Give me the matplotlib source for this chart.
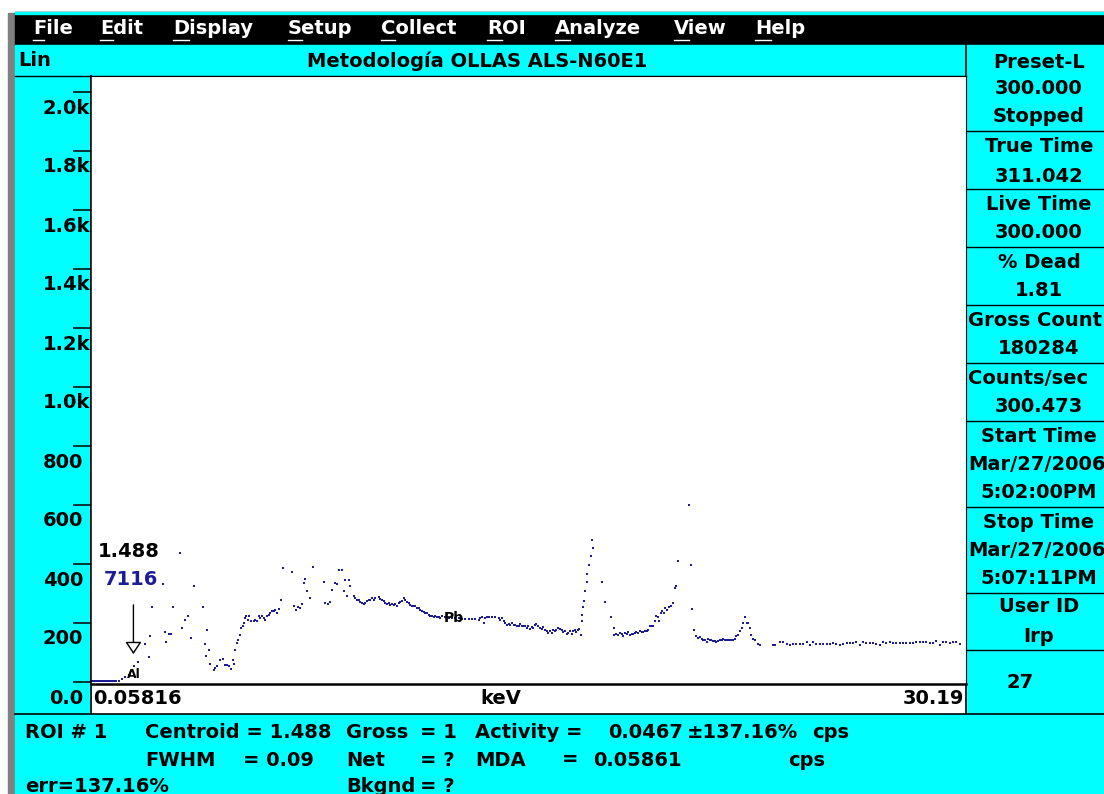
import matplotlib
matplotlib.use("Agg")
import matplotlib.pyplot as plt
from matplotlib.patches import Rectangle
from matplotlib.transforms import ScaledTranslation

plt.rcParams['font.family'] = ['DejaVu Sans']
plt.rcParams['font.weight'] = 'bold'

# -----------------------------
# Data
# -----------------------------
title = "Metodología OLLAS ALS-N60E1"
menu_items = ["File", "Edit", "Display", "Setup", "Collect", "ROI", "Analyze", "View", "Help"]

y_ticks = [0, 200, 400, 600, 800, 1000, 1200, 1400, 1600, 1800, 2000]
y_ticklabels = ["0.0", "200", "400", "600", "800", "1.0k", "1.2k", "1.4k", "1.6k", "1.8k", "2.0k"]

kev_start = 0.05816
kev_end = 30.19

energy_kev = [
    0.06, 0.12, 0.18, 0.24, 0.30, 0.36, 0.42, 0.48, 0.54, 0.60, 0.66, 0.72, 0.78, 0.84, 0.90,
    0.98, 1.09, 1.21, 1.32, 1.42, 1.50, 1.65, 1.88, 2.03, 2.07, 2.13, 2.50, 2.57, 2.61, 2.73, 2.80, 2.85,
    3.11, 3.16, 3.28, 3.36, 3.49, 3.57, 3.88, 3.95, 4.00, 4.03, 4.08, 4.14, 4.26, 4.31, 4.37, 4.49, 4.57,
    4.64, 4.72, 4.80, 4.87, 4.91, 4.95, 5.00, 5.06, 5.10, 5.15, 5.21, 5.26, 5.29, 5.33, 5.37, 5.44, 5.49,
    5.56, 5.64, 5.67, 5.75, 5.81, 5.87, 5.93, 5.98, 6.04, 6.10, 6.16, 6.21, 6.27, 6.33, 6.39, 6.44, 6.50,
    6.59, 6.65, 6.96, 7.02, 7.10, 7.17, 7.25, 7.31, 7.36, 7.40, 7.48, 7.59, 7.67, 8.05, 8.11, 8.20, 8.26,
    8.34, 8.43, 8.51, 8.59, 8.69, 8.74, 8.80, 8.86, 8.92, 8.97, 9.09, 9.15, 9.20, 9.26, 9.32, 9.38, 9.43,
    9.49, 9.55, 9.61, 9.66, 9.72, 9.78, 9.84, 9.95, 10.01, 10.07, 10.12, 10.18, 10.24, 10.30, 10.35,
    10.41, 10.47, 10.53, 10.58, 10.64, 10.70, 10.76, 10.81, 10.87, 10.93, 10.99, 11.04, 11.10, 11.16,
    11.22, 11.27, 11.33, 11.39, 11.45, 11.50, 11.56, 11.62, 11.68, 11.73, 11.79, 11.85, 11.91, 11.96,
    12.02, 12.08, 12.14, 12.25, 12.37, 12.48, 12.60, 12.71, 12.83, 12.94, 13.06, 13.17, 13.29, 13.40,
    13.46, 13.52, 13.58, 13.63, 13.69, 13.75, 13.86, 13.98, 14.09, 14.15, 14.21, 14.27, 14.32, 14.38,
    14.44, 14.50, 14.55, 14.61, 14.67, 14.73, 14.78, 14.84, 14.90, 14.96,
    15.00, 15.06, 15.12, 15.17, 15.23, 15.29, 15.35, 15.40, 15.46, 15.52, 15.58, 15.63, 15.69, 15.75, 15.81, 15.86, 15.92,
    15.98, 16.04, 16.09, 16.15, 16.21, 16.27, 16.32, 16.38, 16.44, 16.50, 16.55, 16.61, 16.67, 16.73, 16.78, 16.84, 16.87,
    16.92, 16.96, 16.98, 17.01, 17.05, 17.09, 17.13, 17.16, 17.21, 17.28, 17.30, 17.36, 17.65, 17.76, 17.96, 18.07, 18.08,
    18.16, 18.22, 18.28, 18.34, 18.39, 18.45, 18.51, 18.57, 18.62, 18.68, 18.74, 18.80, 18.85, 18.91, 18.97, 19.03, 19.08,
    19.14, 19.20, 19.26, 19.31, 19.37, 19.43, 19.49, 19.54, 19.60, 19.63, 19.69, 19.74, 19.81, 19.85, 19.92, 19.98, 20.04,
    20.12, 20.18, 20.23, 20.29, 20.66, 20.73, 20.78, 20.84, 20.92, 20.98, 21.04, 21.10, 21.15, 21.21, 21.27, 21.33, 21.38,
    21.44, 21.50, 21.56, 21.61, 21.67, 21.73, 21.79, 21.84, 21.90, 21.96, 22.02, 22.07, 22.13, 22.19, 22.25, 22.30, 22.36,
    22.42, 22.48, 22.53, 22.59, 22.65, 22.71, 22.76, 22.82, 22.88, 22.94, 23.03, 23.11, 23.57, 23.63,
    23.80, 23.91, 24.03, 24.14, 24.26, 24.37, 24.49, 24.60, 24.72, 24.83, 24.95, 25.06, 25.18, 25.29, 25.41, 25.52, 25.64, 25.75,
    25.87, 25.98, 26.10, 26.21, 26.33, 26.44, 26.56, 26.67, 26.79, 26.90, 27.02, 27.13, 27.25, 27.36, 27.48, 27.59, 27.71, 27.82,
    27.94, 28.05, 28.17, 28.28, 28.40, 28.51, 28.63, 28.74, 28.86, 28.97, 29.09, 29.20, 29.32, 29.43, 29.55, 29.66, 29.78, 29.89, 30.01,
]

counts = [
    3, 3, 4, 3, 3, 3, 4, 3, 3, 3, 4, 3, 4, 5, 5,
    5, 10, 17, 25, 36, 55, 67, 130, 84, 155, 255, 332, 171, 136, 164, 164, 255,
    438, 182, 211, 225, 149, 324, 255, 130, 89, 177, 107, 61, 40, 47, 53, 76, 78,
    58, 58, 53, 45, 75, 62, 107, 132, 144, 159, 182, 189, 200, 218, 223, 209, 223,
    206, 206, 211, 206, 223, 217, 225, 217, 209, 225, 228, 234, 240, 240, 243, 234, 247,
    279, 385, 374, 259, 245, 254, 251, 266, 336, 349, 307, 285, 390, 338, 268, 266, 270,
    313, 336, 333, 381, 381, 310, 347, 293, 345, 324, 293, 285, 279, 277, 270, 268, 266,
    268, 273, 279, 277, 285, 279, 285, 288, 283, 277, 273, 268, 266, 268, 262,
    266, 262, 266, 259, 268, 270, 276, 285, 279, 270, 268, 262, 259, 257,
    259, 251, 251, 245, 240, 236, 234, 234, 228, 225, 223, 220, 223, 220,
    220, 217, 223, 219, 218, 218, 217, 216, 215, 214, 214, 214, 214, 211,
    217, 220, 200, 217, 219, 220, 220, 220, 217, 211, 217, 206, 200, 194,
    198, 194, 200, 194, 194, 189, 191, 198, 189, 191,
    189, 183, 189, 180, 186, 183, 194, 198, 189, 183, 180, 186, 177, 172, 166, 172, 166,
    175, 172, 177, 183, 180, 175, 168, 172, 164, 166, 172, 164, 172, 175, 168, 177, 180,
    160, 206, 228, 254, 276, 307, 338, 367, 397, 426, 480, 454, 338, 272, 220, 184, 160,
    164, 159, 166, 164, 157, 166, 164, 168, 160, 164, 164, 166, 168, 166, 172, 168, 168,
    172, 172, 177, 189, 191, 189, 206, 223, 220, 206, 234, 240, 234, 251, 245, 254, 259,
    268, 319, 327, 409, 599, 397, 249, 177, 155, 149, 153, 146, 141, 144, 134, 146, 144,
    141, 138, 138, 134, 138, 141, 144, 146, 144, 141, 144, 141, 141, 141, 146, 157, 160,
    172, 183, 200, 220, 200, 200, 183, 160, 146, 144, 130, 127, 124, 124,
    134, 134, 130, 127, 130, 130, 130, 130, 134, 127, 134, 130, 130, 130, 130, 130, 132, 130,
    127, 130, 132, 132, 132, 137, 127, 134, 132, 132, 132, 130, 127, 137, 132, 134, 132, 132,
    132, 132, 132, 132, 132, 137, 134, 137, 134, 132, 132, 139, 127, 134, 137, 132, 137, 134, 130,
]

cursor_kev = 1.488
cursor_counts = "7116"

status_lines = [
    ("Preset-L", 62), ("300.000", 89), ("Stopped", 117),
    ("True Time", 147), ("311.042", 176),
    ("Live Time", 205), ("300.000", 233),
    ("% Dead", 263), ("1.81", 291),
    ("Gross Count", 321), ("180284", 349),
    ("Counts/sec", 379), ("300.473", 407),
    ("Start Time", 436), ("Mar/27/2006", 465), ("5:02:00PM", 493),
    ("Stop Time", 522), ("Mar/27/2006", 551), ("5:07:11PM", 579),
    ("User ID", 607), ("Irp", 636),
]
status_separators = [131, 189, 247, 305, 363, 421, 507, 593, 650]

roi_texts = [
    ("ROI # 1", 25, 733), ("Centroid = 1.488", 145, 733),
    ("Gross", 346, 733), ("= 1", 420, 733), ("Activity =", 475, 733),
    ("0.0467", 608, 733), ("±137.16%", 687, 733), ("cps", 812, 733),
    ("FWHM", 145, 760), ("= 0.09", 243, 760), ("Net", 346, 760), ("= ?", 420, 760),
    ("MDA", 475, 760), ("=", 562, 760), ("0.05861", 593, 760), ("cps", 788, 760),
    ("err=137.16%", 25, 787), ("Bkgnd", 346, 787), ("= ?", 420, 787),
]

# -----------------------------
# Window frame (pixel coordinates)
# -----------------------------
W, H = 1104, 794
CYAN = '#00ffff'
NAVY = '#1c1c96'
FS = 14

fig = plt.figure(figsize=(W / 100, H / 100), dpi=100, facecolor='white')
bg = fig.add_axes([0, 0, 1, 1])
bg.set_xlim(0, W)
bg.set_ylim(H, 0)
bg.axis('off')

bg.add_patch(Rectangle((8, 13), 7, H - 13, color='#808080'))
bg.add_patch(Rectangle((15, 12), W - 15, 33, color='black'))
bg.add_patch(Rectangle((15, 12), W - 15, 1.5, color=CYAN))
bg.add_patch(Rectangle((15, 45), W - 15, H - 45, color=CYAN))
bg.add_patch(Rectangle((92, 684), 874, 29, color='white'))

# menu bar
menu_x = [33, 100, 173, 288, 381, 487, 555, 674, 755]
underline_w = [11, 13, 16, 14, 14, 15, 15, 15, 16]
for name, x, uw in zip(menu_items, menu_x, underline_w):
    bg.text(x, 29, name, color='white', fontsize=FS, va='center', ha='left')
    bg.plot([x, x + uw], [40, 40], color='white', lw=1)

# title bar
bg.text(18, 61, "Lin", fontsize=FS, va='center', ha='left')
bg.text(477, 61, title, fontsize=FS, va='center', ha='center')

# frame lines
bg.plot([15, 966], [76, 76], color='black', lw=1)
bg.plot([91, 91], [76, 713], color='black', lw=1.2)
bg.plot([966, 966], [45, 713], color='black', lw=1.2)
bg.plot([15, W], [713.5, 713.5], color='black', lw=1.2)
for ys in status_separators:
    bg.plot([967, W], [ys, ys], color='black', lw=1)

# right status panel
for txt, y in status_lines:
    if txt in ("Gross Count", "Counts/sec", "Mar/27/2006"):
        bg.text(968, y, txt, fontsize=FS, va='center', ha='left')
    else:
        bg.text(1039, y, txt, fontsize=FS, va='center', ha='center')
bg.text(1020, 682, "27", fontsize=FS, va='center', ha='center')

# bottom ROI panel
for txt, x, y in roi_texts:
    bg.text(x, y, txt, fontsize=FS, va='center', ha='left')

# x range labels under the plot
bg.text(93, 699, f"{kev_start:.5f}", fontsize=FS, va='center', ha='left')
bg.text(501, 699, "keV", fontsize=FS, va='center', ha='center')
bg.text(964, 699, f"{kev_end:.2f}", fontsize=FS, va='center', ha='right')

# -----------------------------
# Spectrum plot
# -----------------------------
ax = fig.add_axes([91 / W, (H - 684) / H, (966 - 91) / W, (684 - 76) / H])
kev_per_px = (kev_end - kev_start) / 873
counts_per_px = 2000 / 590
ax.set_xlim(kev_start - kev_per_px, kev_end + kev_per_px)
ax.set_ylim(-2 * counts_per_px, 606 * counts_per_px)
ax.set_facecolor('white')

ax.plot(energy_kev, counts, linestyle='none', marker='s', markersize=1.7,
        markeredgewidth=0, color=NAVY)

ax.set_xticks([])
ax.set_yticks(y_ticks)
ax.set_yticklabels(y_ticklabels)
ax.tick_params(axis='y', direction='out', length=13, width=1.1, pad=0,
               labelsize=FS, color='black')
for tick, lab in zip(ax.yaxis.get_major_ticks(), y_ticklabels):
    dx = 17 if lab.endswith('k') else 10
    tick.label1.set_transform(tick.label1.get_transform() +
                              ScaledTranslation(dx / 100, -14 / 100, fig.dpi_scale_trans))

ax.spines['left'].set_linewidth(1.1)
ax.spines['bottom'].set_linewidth(1.8)
ax.spines['top'].set_linewidth(0.8)
ax.spines['right'].set_linewidth(0.8)

# ROI cursor and labels
ax.annotate('', xy=(cursor_kev, 85), xytext=(cursor_kev, 271),
            arrowprops=dict(arrowstyle='-|>,head_length=0.75,head_width=0.5',
                            fc='white', ec='black', lw=1))
ax.text(0.265, 441, f"{cursor_kev:.3f}", fontsize=FS, va='center', ha='left', color='black')
ax.text(0.47, 349, cursor_counts, fontsize=FS, va='center', ha='left', color=NAVY)
ax.text(1.49, 24, "Al", fontsize=9, va='center', ha='center', color='black')
ax.text(12.55, 217, "Pb", fontsize=10, va='center', ha='center', color='black')

fig.savefig("out.png", dpi=100)
